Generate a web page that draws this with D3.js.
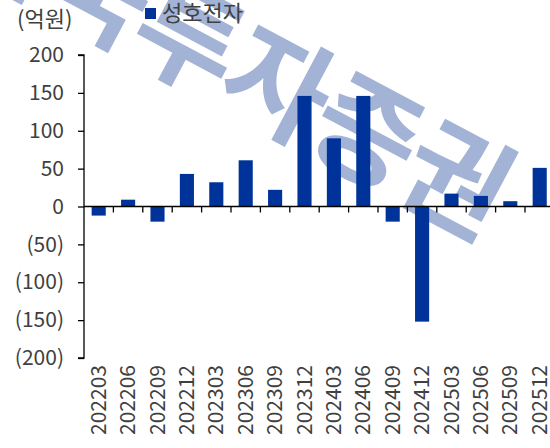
<!DOCTYPE html>
<html>
<head>
<meta charset="utf-8">
<script src="https://cdn.jsdelivr.net/npm/d3@7"></script>
<style>
  html, body { margin: 0; padding: 0; background: #fff; }
  svg { display: block; }
  text { font-family: "Noto Sans CJK KR", "Noto Sans", sans-serif; }
</style>
</head>
<body>
<svg id="chart" width="550" height="448"></svg>
<script>
const categories = ["202203","202206","202209","202212","202303","202306","202309","202312",
                    "202403","202406","202409","202412","202503","202506","202509","202512"];
const seriesName = "성호전자";
const values = [-12, 9, -20, 43, 32, 61, 22, 146, 90, 146, -20, -152, 17, 14, 7, 51];
const yTicks = [-200, -150, -100, -50, 0, 50, 100, 150, 200];
const unitLabel = "(억원)";
const watermarkText = "한국투자증권";

(function () {
const svg = d3.select("#chart");
const W = 550, H = 448;
const mLeft = 84, mTop = 55, mBottom = 358;
const bandW = 29.4;
const mRight = mLeft + bandW * categories.length;

const x = d3.scaleBand().domain(categories).range([mLeft, mRight]).paddingInner(0.52).paddingOuter(0.26);
const xb = d3.scaleBand().domain(categories).range([mLeft, mRight]);
const y = d3.scaleLinear().domain([-200, 200]).range([mBottom, mTop]);

const textColor = "#404040";
const barColor = "#003399";

// watermark (behind bars), one glyph at a time along a diagonal
const ang = 28, rad = ang * Math.PI / 180, step = 101;
const c3 = [282, 78];
const wm = svg.append("g");
Array.from(watermarkText).forEach((ch, i) => {
  const cx = c3[0] + (i - 3) * step * Math.cos(rad);
  const cy = c3[1] + (i - 3) * step * Math.sin(rad);
  wm.append("text")
    .attr("transform", `translate(${cx},${cy}) rotate(${ang})`)
    .attr("text-anchor", "middle")
    .attr("dominant-baseline", "central")
    .attr("font-size", 114)
    .attr("font-weight", 700)
    .attr("fill", "#a3b3d6")
    .text(ch);
});

// bars
svg.append("g").selectAll("rect").data(values).join("rect")
  .attr("x", (d, i) => x(categories[i]))
  .attr("width", x.bandwidth())
  .attr("y", d => y(Math.max(0, d)))
  .attr("height", d => Math.abs(y(d) - y(0)))
  .attr("fill", barColor);

// y axis
const yAxis = d3.axisLeft(y).tickValues(yTicks).tickSize(6).tickPadding(14)
  .tickFormat(d => d < 0 ? "(" + Math.abs(d) + ")" : String(d));
const gy = svg.append("g").attr("transform", `translate(${mLeft},0)`).call(yAxis);
gy.select(".domain").attr("stroke", "#000").attr("stroke-width", 1.3).attr("d", `M-6,${mTop}H0V${mBottom}H-6`);
gy.selectAll(".tick line").attr("stroke", "#000").attr("stroke-width", 1.3);
gy.selectAll(".tick text").attr("fill", textColor).attr("font-size", 21)
  .attr("font-family", "'Noto Sans CJK KR', sans-serif");

// x axis line at zero with ticks at band boundaries
const gx = svg.append("g");
gx.append("line").attr("x1", mLeft).attr("x2", W).attr("y1", y(0)).attr("y2", y(0))
  .attr("stroke", "#000").attr("stroke-width", 1.3);
gx.selectAll("line.tk").data(categories.slice(1)).join("line").attr("class", "tk")
  .attr("x1", d => xb(d)).attr("x2", d => xb(d))
  .attr("y1", y(0)).attr("y2", y(0) + 6)
  .attr("stroke", "#000").attr("stroke-width", 1.3);

// x labels (rotated)
svg.append("g").selectAll("text").data(categories).join("text")
  .attr("transform", d => `translate(${xb(d) + xb.bandwidth() / 2 + 7},365) rotate(-90)`)
  .attr("text-anchor", "end")
  .attr("fill", textColor)
  .attr("font-size", 21)
  .text(d => d);

// unit label
svg.append("text").attr("x", 17).attr("y", 27).attr("fill", textColor).attr("font-size", 22).text(unitLabel);

// legend
svg.append("rect").attr("x", 145).attr("y", 8).attr("width", 11).attr("height", 11).attr("fill", barColor);
svg.append("text").attr("x", 162).attr("y", 21).attr("fill", textColor).attr("font-size", 22).text(seriesName);
})();
</script>
</body>
</html>
